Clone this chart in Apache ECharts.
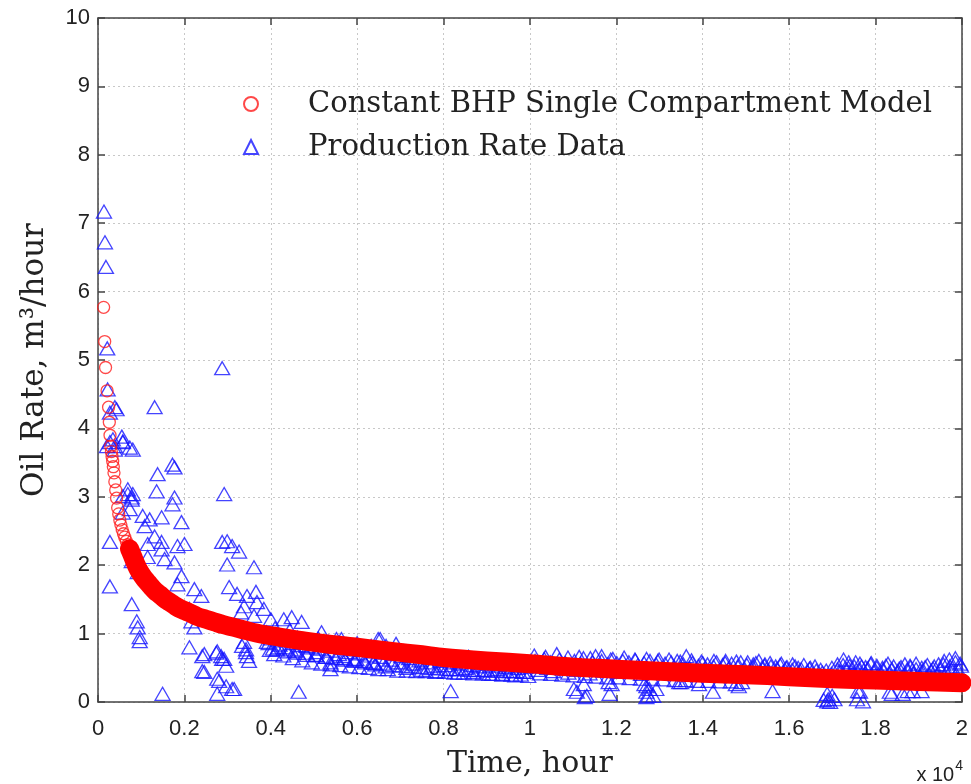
<!DOCTYPE html>
<html>
<head>
<meta charset="utf-8">
<script src="https://cdn.jsdelivr.net/npm/echarts@6/dist/echarts.min.js"></script>
<style>html,body{margin:0;padding:0;background:#fff}#c{width:971px;height:784px}</style>
</head>
<body>
<div id="c"></div>
<script>
// Model (constant BHP single compartment) — time in hours, rate in m3/hour
const modelTime = [130,155,175,210,245,262,278,295,310,325,340,355,370,390,410,430,455,480,505,530,560,590,620,655,690,730,770,815,860,910,960,1020,1090,1160,1240,1330,1430,1540,1660,1800,1950,2100,2300,2500,2700,2900,3100,3400,3800,4200,4800,5400,6000,6800,7500,8000,9000,10000,11000,12000,13000,14000,15000,16000,17000,18000,19000,20000];
const modelRate = [5.77,5.27,4.89,4.55,4.31,4.09,3.90,3.74,3.66,3.59,3.52,3.44,3.35,3.22,3.10,2.98,2.84,2.75,2.66,2.59,2.52,2.46,2.41,2.35,2.30,2.24,2.18,2.11,2.04,1.97,1.91,1.85,1.79,1.74,1.68,1.62,1.57,1.51,1.46,1.40,1.35,1.31,1.25,1.21,1.17,1.13,1.10,1.05,0.99,0.95,0.89,0.84,0.80,0.74,0.69,0.65,0.60,0.56,0.51,0.48,0.45,0.42,0.40,0.37,0.34,0.32,0.30,0.28];

// Production rate data [time (h), rate]
const prodEarly = [[138,7.17],[161,6.72],[184,6.36],[214,5.17],[223,4.57],[391,4.31],[276,4.23],[430,4.28],[345,3.84],[207,3.74],[575,3.81],[736,3.72],[391,3.69],[690,3.11],[805,3.04],[782,2.96],[276,2.34],[276,1.69],
[391,3.74],[552,3.88],[575,3.80],[276,3.80],[805,3.69],[575,3.01],[690,3.04],[782,2.99],[736,2.82],[575,2.77]];
const prodSecond = [[1311,4.31],[1725,3.47],[1771,3.43],[1380,3.33],[1357,3.08],[1771,2.99],[1725,2.89],[1035,2.72],[1196,2.67],[1472,2.70],[1932,2.63],[1081,2.57],[1311,2.42],[1472,2.34],[1840,2.28],[2001,2.31],[1150,2.31],[1472,2.23],[782,2.06],[1150,2.12],[1541,2.09],[1771,2.04],[1932,1.84],[920,1.90],[1840,1.72],[2231,1.65],[2392,1.55],[782,1.43],[2116,1.36],[897,1.18],[920,1.09],[966,0.95],[966,0.89],[2162,1.18],[2231,1.09],[2116,0.80],[2461,0.70],[2760,0.74],[2852,0.67],[2461,0.44],[2760,0.34],[2967,0.23],[1495,0.12],[2760,0.12],[2415,0.67],[2415,0.45],[2806,0.31],[3105,0.19],[2737,0.72],[2875,0.63],[3335,0.82],[3427,0.73]];
const prodThird = [[2875,4.88],[2921,3.04],[2875,2.34],[2990,2.35],[3105,2.28],[3266,2.20],[2990,2.01],[3611,1.97],[3036,1.68],[3220,1.58],[3450,1.55],[3657,1.61],[3680,1.46],[3381,1.40],[3841,1.36],[3312,1.31],[3611,1.26],[4002,1.21],[4301,1.21],[4485,1.24],[4715,1.17],[3381,0.88],[3427,0.77],[3450,0.67],[3496,0.60],[3910,0.88],[4140,0.77],[4462,0.77],[4830,0.82],[5060,0.73],[5382,0.58],[5382,0.48],[5681,0.67],[5980,0.63],[6371,0.58],[6532,0.92],[6670,0.82],[2921,0.63],[2967,0.53],[3151,0.19],[4646,0.15],[5175,1.02],[5635,0.92],[6325,0.82],[6486,0.92],[8165,0.16],[11086,0.15]];
const prodBandA = [[3900,1.02],[3950,0.86],[4000,0.93],[4050,0.78],[4100,1.08],[4150,0.90],[4200,0.84],[4260,0.97],[4320,0.80],[4380,0.92],[4440,1.05],[4500,0.86],[4560,0.75],[4620,0.94],[4680,0.83],[4740,0.89],[4800,0.72],[4860,0.91],[4920,0.80],[4980,0.86],[5040,0.69],[5100,0.93],[5160,0.78],[5220,0.84],[5280,0.66],[5340,0.88],[5400,0.75],[5460,0.81],[5520,0.92],[5580,0.70],[5640,0.79],[5700,0.64],[5760,0.84],[5820,0.73],[5880,0.77],[5940,0.62],[6000,0.86],[6060,0.71],[6120,0.76]];
const prodBandB = [[6180,0.58],[6240,0.80],[6300,0.68],[6360,0.74],[6420,0.55],[6480,0.79],[6540,0.66],[6600,0.72],[6660,0.52],[6720,0.77],[6780,0.62],[6840,0.70],[6900,0.85],[6960,0.58],[7020,0.67],[7080,0.74],[7140,0.50],[7200,0.64],[7260,0.71],[7320,0.56],[7380,0.68],[7440,0.61],[7500,0.47],[7560,0.70],[7620,0.58],[7680,0.64],[7740,0.53],[7800,0.66],[7860,0.45],[7920,0.60],[7980,0.67],[8040,0.54],[8100,0.62],[8160,0.48],[8220,0.58],[8280,0.64],[8340,0.43],[8400,0.56],[8460,0.61],[8520,0.50],[8580,0.66],[8640,0.54],[8700,0.44],[8760,0.59],[8820,0.52],[8880,0.62],[8940,0.47],[9000,0.56],[9060,0.41],[9120,0.53],[9180,0.60],[9240,0.48],[9300,0.55],[9360,0.40],[9420,0.51],[9480,0.57],[9540,0.45],[9600,0.53],[9660,0.39],[9720,0.50],[9780,0.56],[9840,0.44],[9900,0.52],[9960,0.38]];
const prodBandC = [[10050,0.52],[10120,0.60],[10190,0.47],[10260,0.56],[10330,0.63],[10400,0.50],[10470,0.58],[10540,0.45],[10610,0.55],[10680,0.62],[10750,0.49],[10820,0.57],[10890,0.43],[10960,0.53],[11030,0.60],[11100,0.47],[11170,0.56],[11240,0.64],[11310,0.50],[11380,0.42],[11450,0.58],[11520,0.67],[11590,0.53],[11660,0.60],[11730,0.46],[11800,0.55],[11870,0.62],[11940,0.50],[12010,0.57],[12080,0.44],[12150,0.60],[12220,0.52],[12290,0.58],[12360,0.48],[12430,0.62],[12500,0.54],[12570,0.41],[12640,0.57],[12710,0.50],[12780,0.60],[12850,0.46],[12920,0.55],[12990,0.62],[13060,0.49],[13130,0.56],[13200,0.43],[13270,0.58],[13340,0.51],[13410,0.60],[13480,0.47],[13550,0.55],[13620,0.67],[13690,0.50],[13760,0.57],[13830,0.44],[13900,0.53],[13970,0.59],[14040,0.48],[14110,0.55],[14180,0.40],[14250,0.52],[14320,0.58],[14390,0.46],[14460,0.54],[14530,0.60],[14600,0.49],[14670,0.56],[14740,0.43],[14810,0.52],[14880,0.58],[14950,0.47]];
const prodBandD = [[15020,0.54],[15090,0.45],[15160,0.51],[15230,0.57],[15300,0.42],[15370,0.50],[15440,0.55],[15510,0.46],[15580,0.52],[15650,0.40],[15720,0.49],[15790,0.54],[15860,0.44],[15930,0.50],[16000,0.38],[16070,0.47],[16140,0.52],[16210,0.42],[16280,0.48],[16350,0.36],[16420,0.45],[16490,0.50],[16560,0.40],[16630,0.46],[16700,0.35],[16770,0.43],[16840,0.38],[16910,0.33],[16980,0.41],[17050,0.36],[17120,0.55],[17190,0.44],[17260,0.62],[17330,0.48],[17400,0.53],[17470,0.42],[17540,0.58],[17610,0.47],[17680,0.52],[17750,0.40],[17820,0.49],[17890,0.55],[17960,0.44],[18030,0.50],[18100,0.38],[18170,0.47],[18240,0.53],[18310,0.42],[18380,0.48],[18450,0.36],[18520,0.45],[18590,0.51],[18660,0.40],[18730,0.47],[18800,0.53],[18870,0.42],[18940,0.48],[19010,0.36],[19080,0.45],[19150,0.51],[19220,0.40],[19290,0.46],[19360,0.52],[19430,0.41],[19500,0.47],[19570,0.55],[19640,0.43],[19710,0.62],[19780,0.50],[19850,0.58],[19920,0.46],[19980,0.53]];
const prodBandE = [[3980,0.76],[4080,0.70],[4180,0.80],[4290,0.68],[4400,0.74],[4510,0.64],[4620,0.72],[4730,0.61],[4840,0.69],[4950,0.58],[5060,0.68],[5170,0.56],[5280,0.66],[5390,0.55],[5500,0.64],[5610,0.54],[5720,0.62],[5830,0.52],[5940,0.60],[6050,0.51],[6160,0.60],[6270,0.50],[6380,0.57],[6490,0.48],[6600,0.56],[6710,0.48],[6820,0.54],[6930,0.46],[7040,0.53],[7150,0.46],[7260,0.52],[7370,0.45],[7480,0.51],[7590,0.45],[7700,0.50],[7810,0.44],[7920,0.49],[8030,0.44],[8140,0.48],[8250,0.43],[8360,0.48],[8470,0.43],[8580,0.47],[8690,0.42],[8800,0.47],[8910,0.42],[9020,0.46],[9130,0.41],[9240,0.46],[9350,0.41],[9460,0.45],[9570,0.40],[9680,0.45],[9790,0.40],[9900,0.44]];
const prodBandF = [[10100,0.68],[10230,0.42],[10360,0.66],[10490,0.41],[10620,0.70],[10750,0.40],[10880,0.65],[11010,0.39],[11140,0.66],[11270,0.38],[11400,0.64],[11530,0.37],[11660,0.67],[11790,0.36],[11920,0.63],[12050,0.36],[12180,0.65],[12310,0.35],[12440,0.61],[12570,0.34],[12700,0.63],[12830,0.34],[12960,0.60],[13090,0.33],[13220,0.62],[13350,0.32],[13480,0.59],[13610,0.32],[13740,0.61],[13870,0.31],[14000,0.57],[14130,0.31],[14260,0.60],[14390,0.30],[14520,0.57],[14650,0.30],[14780,0.59],[14910,0.29],[15040,0.58],[15170,0.55],[15300,0.60],[15430,0.53],[15560,0.57],[15690,0.52],[15820,0.56],[15950,0.51],[16080,0.55],[16210,0.50],[16340,0.54],[16470,0.49],[16600,0.52],[16730,0.47],[16860,0.46],[16990,0.50],[17120,0.48],[17250,0.54],[17380,0.58],[17510,0.52],[17640,0.56],[17770,0.51],[17900,0.57],[18030,0.53],[18160,0.50],[18290,0.56],[18420,0.52],[18550,0.49],[18680,0.55],[18810,0.51],[18940,0.56],[19070,0.50],[19200,0.54],[19330,0.49],[19460,0.55],[19590,0.60],[19720,0.52],[19850,0.64],[19960,0.56]];
const prodLow = [[11247,0.26],[11316,0.09],[11891,0.26],[11845,0.12],[12696,0.23],[12742,0.09],[12926,0.19],[11017,0.19],[11270,0.07],[11822,0.29],[12650,0.26],[12696,0.15],[12696,0.07],[13501,0.29],[14237,0.15],[14835,0.23],[12765,0.19],[12857,0.09],[14766,0.26],[15617,0.16],[16882,0.01],[16997,0.09],[17710,0.01],[17595,0.16],[18377,0.12],[18745,0.16],[19067,0.16],[13455,0.29],[13915,0.26],[16882,0.12],[16905,0.04],[17641,0.15],[17572,0.04],[18331,0.15],[18630,0.12],[18860,0.16],[16800,0.03],[16950,0.00],[17050,0.04]];

const xTickStep = 2000;
const yTickStep = 1;
const legendNames = ['Constant BHP Single Compartment Model', 'Production Rate Data'];

const prodData = [].concat(prodEarly, prodSecond, prodThird, prodBandA, prodBandB, prodBandC, prodBandD, prodBandE, prodBandF, prodLow);
const modelData = modelTime.map((t, i) => [t, modelRate[i]]);
const bandData = modelData.filter(d => d[0] >= 730);

const axisColor = '#444';
const chart = echarts.init(document.getElementById('c'), null, {renderer: 'canvas'});
const baseX = {
  type: 'value', min: 0, max: 20000, interval: xTickStep,
  axisLine: {show: true, onZero: false, lineStyle: {color: axisColor, width: 1.5}},
  axisTick: {show: true, inside: true, length: 7, lineStyle: {color: axisColor, width: 1.5}}
};
const baseY = {
  type: 'value', min: 0, max: 10, interval: yTickStep,
  axisLine: {show: true, onZero: false, lineStyle: {color: axisColor, width: 1.5}},
  axisTick: {show: true, inside: true, length: 7, lineStyle: {color: axisColor, width: 1.5}}
};
chart.setOption({
  animation: false,
  backgroundColor: '#fff',
  grid: {left: 98, right: 3, top: 18, bottom: 81, containLabel: false},
  xAxis: [
    Object.assign({}, baseX, {
      position: 'bottom',
      axisLabel: {formatter: v => String(+(v / 10000).toFixed(1)), fontFamily: 'Liberation Sans', fontSize: 22, color: '#222', margin: 16},
      splitLine: {show: true, lineStyle: {type: [2, 3], color: '#c8c8c8', width: 1}},
      name: 'Time, hour', nameLocation: 'middle', nameGap: 47,
      nameTextStyle: {fontFamily: 'DejaVu Serif', fontSize: 30, color: '#222'}
    }),
    Object.assign({}, baseX, {position: 'top', axisLabel: {show: false}, splitLine: {show: false}})
  ],
  yAxis: [
    Object.assign({}, baseY, {
      position: 'left',
      axisLabel: {fontFamily: 'Liberation Sans', fontSize: 22, color: '#222', margin: 8},
      splitLine: {show: true, lineStyle: {type: [2, 3], color: '#c8c8c8', width: 1}},
      name: 'Oil Rate, m³/hour', nameLocation: 'middle', nameGap: 48,
      nameTextStyle: {fontFamily: 'DejaVu Serif', fontSize: 31, color: '#222'}
    }),
    Object.assign({}, baseY, {position: 'right', axisLabel: {show: false}, splitLine: {show: false}})
  ],
  legend: {
    data: legendNames,
    orient: 'vertical', left: 238, top: 84,
    itemWidth: 14, itemHeight: 14, itemGap: 13,
    textStyle: {fontFamily: 'DejaVu Serif', fontSize: 29, lineHeight: 30, color: '#222', padding: [0, 0, 0, 45]},
    selectedMode: false
  },
  graphic: [{
    type: 'text', right: 8, top: 759,
    style: {
      text: '{a|x 10}{b|4}',
      rich: {
        a: {fontFamily: 'Liberation Sans', fontSize: 20, fill: '#222', verticalAlign: 'bottom'},
        b: {fontFamily: 'Liberation Sans', fontSize: 14, fill: '#222', verticalAlign: 'top', padding: [0, 0, 12, 1]}
      }
    }
  }],
  series: [
    {
      name: legendNames[1], type: 'scatter', data: prodData,
      symbol: 'triangle', symbolSize: [15, 13],
      itemStyle: {color: 'rgba(0,0,0,0)', borderColor: '#1515ff', borderWidth: 1.3},
      z: 2
    },
    {
      name: legendNames[0], type: 'scatter', data: modelData,
      symbol: 'circle', symbolSize: 12,
      itemStyle: {color: 'rgba(0,0,0,0)', borderColor: '#ff1a1a', borderWidth: 1.3},
      z: 3
    },
    {
      name: 'model band', type: 'line', data: bandData,
      symbol: 'none', smooth: 0.3,
      lineStyle: {color: '#ff0000', width: 19, cap: 'round', join: 'round'},
      z: 4, silent: true
    }
  ]
});
</script>
</body>
</html>
